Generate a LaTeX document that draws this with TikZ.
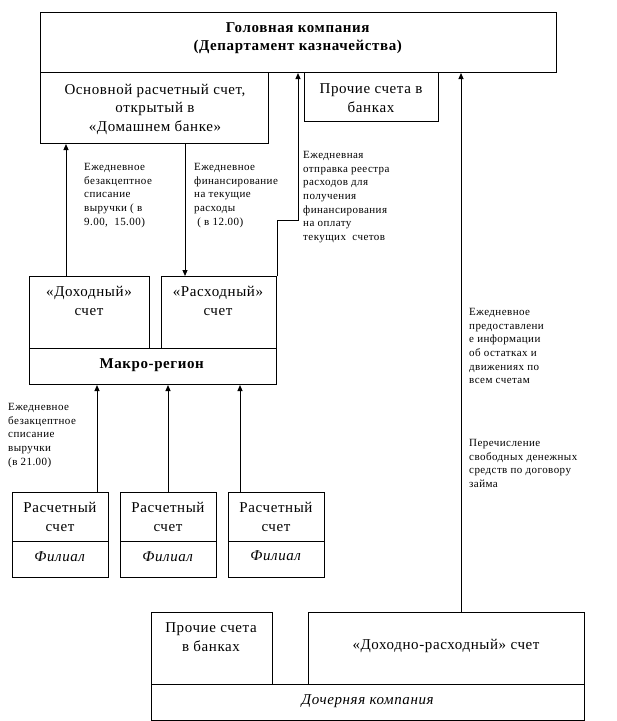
\documentclass[tikz,border=0pt]{standalone}
\usepackage{fontspec}
\setmainfont[LetterSpace=4]{Liberation Serif}
\usetikzlibrary{arrows.meta}
\begin{document}
\begin{tikzpicture}[x=1pt,y=-1pt,
  box/.style={draw, line width=1pt, inner sep=0pt, anchor=north west},
  big/.style={font=\fontsize{15}{18.5}\selectfont, align=center, inner sep=0pt},
  small/.style={font=\fontsize{11}{13.7}\selectfont, align=left, inner sep=0pt, anchor=north west},
  arr/.style={line width=1pt, -{Triangle[length=6pt,width=5pt]}}]
\useasboundingbox (0,0) rectangle (617,721);
% boxes
\node[box, minimum width=516pt, minimum height=60pt] (head) at (40,12) {};
\node[box, minimum width=228pt, minimum height=71pt] (main) at (40,72) {};
\node[box, minimum width=134pt, minimum height=49pt] (other) at (304,72) {};
\node[box, minimum width=120pt, minimum height=72pt] (dox) at (29,276) {};
\node[box, minimum width=115pt, minimum height=72pt] (rasx) at (161,276) {};
\node[box, minimum width=247pt, minimum height=36pt] (macro) at (29,348) {};
\node[box, minimum width=96pt, minimum height=49pt] (f1) at (12,492) {};
\node[box, minimum width=96pt, minimum height=36pt] (f1b) at (12,541) {};
\node[box, minimum width=96pt, minimum height=49pt] (f2) at (120,492) {};
\node[box, minimum width=96pt, minimum height=36pt] (f2b) at (120,541) {};
\node[box, minimum width=96pt, minimum height=49pt] (f3) at (228,492) {};
\node[box, minimum width=96pt, minimum height=36pt] (f3b) at (228,541) {};
\node[box, minimum width=121pt, minimum height=72pt] (subother) at (151,612) {};
\node[box, minimum width=276pt, minimum height=72pt] (subdr) at (308,612) {};
\node[box, minimum width=433pt, minimum height=36pt] (sub) at (151,684) {};
% box texts
\node[big] (thead) at (298,38) {\textbf{Головная компания}\\\textbf{(Департамент казначейства)}};
\node[big] (tmain) at (155,109) {Основной расчетный счет,\\открытый в\\«Домашнем банке»};
\node[big] (tother) at (371,98) {Прочие счета в\\банках};
\node[big] (tdox) at (89,301) {«Доходный»\\счет};
\node[big] (trasx) at (218,301) {«Расходный»\\счет};
\node[big] (tmacro) at (152,365) {\textbf{Макро-регион}};
\node[big] (tf1) at (60,517) {Расчетный\\счет};
\node[big] (tf1b) at (60,557) {\textit{Филиал}};
\node[big] (tf2) at (168,517) {Расчетный\\счет};
\node[big] (tf2b) at (168,557) {\textit{Филиал}};
\node[big] (tf3) at (276,517) {Расчетный\\счет};
\node[big] (tf3b) at (276,556) {\textit{Филиал}};
\node[big] (tsubother) at (211,637) {Прочие счета\\в банках};
\node[big] (tsubdr) at (446,646) {«Доходно-расходный» счет};
\node[big] (tsub) at (368,701) {\textit{Дочерняя компания}};
% connector labels
\node[small] (l1) at (84,163) {Ежедневное\\безакцептное\\списание\\выручки ( в\\9.00,\ \ 15.00)};
\node[small] (l2) at (194,163) {Ежедневное\\финансирование\\на текущие\\расходы\\\ ( в 12.00)};
\node[small] (l3) at (303,151) {Ежедневная\\отправка реестра\\расходов для\\получения\\финансирования\\на оплату\\текущих\ \ счетов};
\node[small] (l4) at (8,403) {Ежедневное\\безакцептное\\списание\\выручки\\(в 21.00)};
\node[small] (l5) at (469,308) {Ежедневное\\предоставлени\\е информации\\об остатках и\\движениях по\\всем счетам};
\node[small] (l6) at (469,439) {Перечисление\\свободных денежных\\средств по договору\\займа};
% connectors
\coordinate (c1) at (66,0);
\coordinate (c2) at (185,0);
\coordinate (c3) at (298,220);
\coordinate (c4) at (461,0);
\coordinate (c5) at (97,0);
\coordinate (c6) at (168,0);
\coordinate (c7) at (240,0);
\draw[arr] (c1 |- dox.north) -- (c1 |- main.south);
\draw[arr] (c2 |- main.south) -- (c2 |- rasx.north);
\draw[arr] (rasx.north east) -- (rasx.north east |- c3) -- (c3) -- (c3 |- head.south);
\draw[arr] (c4 |- subdr.north) -- (c4 |- head.south);
\draw[arr] (c5 |- f1.north) -- (c5 |- macro.south);
\draw[arr] (c6 |- f2.north) -- (c6 |- macro.south);
\draw[arr] (c7 |- f3.north) -- (c7 |- macro.south);
\end{tikzpicture}
\end{document}
